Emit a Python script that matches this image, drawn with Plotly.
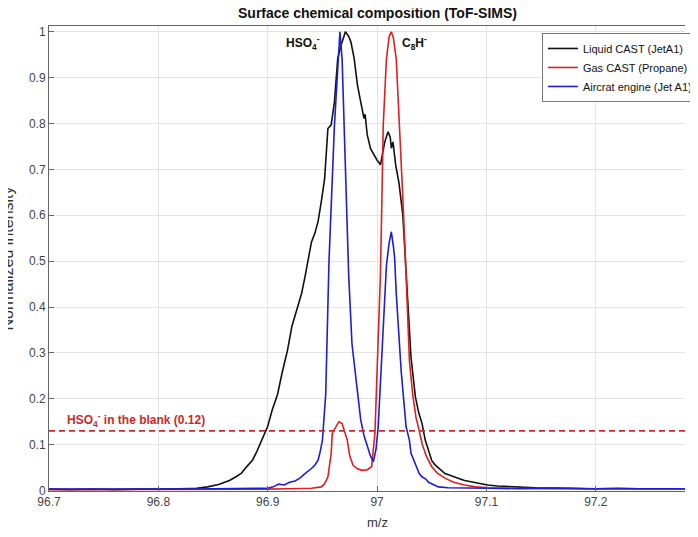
import plotly.graph_objects as go

# ---------------- data ----------------
liquid_x = [96.70, 96.72, 96.74, 96.76, 96.78, 96.80, 96.82, 96.835, 96.845, 96.855,
            96.865, 96.871, 96.876, 96.880, 96.886, 96.890, 96.895, 96.900, 96.904, 96.909,
            96.913, 96.918, 96.922, 96.926, 96.931, 96.934, 96.937, 96.940, 96.943, 96.946,
            96.949, 96.952, 96.955, 96.958, 96.961, 96.964, 96.967, 96.971, 96.974, 96.976,
            96.979, 96.982, 96.985, 96.988, 96.989, 96.991, 96.994, 96.997, 97.000, 97.001,
            97.003, 97.005, 97.007, 97.010, 97.012, 97.013, 97.0145, 97.017, 97.020, 97.0235,
            97.0265, 97.029, 97.031, 97.035, 97.038, 97.041, 97.044, 97.047, 97.050, 97.053,
            97.058, 97.062, 97.066, 97.070, 97.074, 97.080, 97.086, 97.093, 97.101, 97.110,
            97.122, 97.135, 97.145, 97.160, 97.180, 97.200, 97.220, 97.240, 97.260, 97.280, 97.300]
liquid_y = [0.003, 0.002, 0.003, 0.002, 0.003, 0.003, 0.004, 0.005, 0.008, 0.013,
            0.022, 0.030, 0.038, 0.050, 0.066, 0.085, 0.112, 0.140, 0.175, 0.210,
            0.255, 0.305, 0.357, 0.390, 0.430, 0.465, 0.500, 0.542, 0.560, 0.586,
            0.630, 0.680, 0.789, 0.797, 0.847, 0.942, 0.970, 1.000, 0.990, 0.978,
            0.942, 0.884, 0.847, 0.811, 0.820, 0.775, 0.745, 0.731, 0.720, 0.717,
            0.710, 0.735, 0.760, 0.782, 0.770, 0.746, 0.760, 0.709, 0.670, 0.600,
            0.470, 0.370, 0.290, 0.204, 0.170, 0.147, 0.110, 0.088, 0.065, 0.056,
            0.045, 0.037, 0.034, 0.030, 0.027, 0.022, 0.019, 0.015, 0.012, 0.010,
            0.008, 0.007, 0.006, 0.005, 0.005, 0.004, 0.005, 0.004, 0.004, 0.004, 0.004]

gas_x = [96.70, 96.75, 96.80, 96.85, 96.90, 96.92, 96.94, 96.949, 96.952, 96.955,
         96.958, 96.959, 96.9623, 96.965, 96.968, 96.970, 96.9727, 96.975, 96.978, 96.9816,
         96.986, 96.9906, 96.993, 96.995, 96.998, 97.001, 97.003, 97.0045, 97.0056, 97.0085,
         97.011, 97.013, 97.015, 97.0175, 97.0205, 97.0235, 97.0265, 97.0295, 97.0325, 97.0355,
         97.0385, 97.0414, 97.045, 97.050, 97.055, 97.062, 97.070, 97.080, 97.090, 97.101,
         97.120, 97.150, 97.180, 97.210, 97.240, 97.270, 97.300]
gas_y = [0.002, 0.002, 0.002, 0.002, 0.003, 0.004, 0.005, 0.008, 0.015, 0.030,
         0.081, 0.125, 0.140, 0.150, 0.146, 0.130, 0.110, 0.075, 0.055, 0.048,
         0.044, 0.045, 0.048, 0.052, 0.125, 0.357, 0.470, 0.650, 0.797, 0.940,
         0.990, 1.000, 0.985, 0.940, 0.797, 0.638, 0.470, 0.284, 0.210, 0.160,
         0.130, 0.100, 0.075, 0.052, 0.038, 0.027, 0.018, 0.012, 0.008, 0.006,
         0.005, 0.004, 0.004, 0.004, 0.004, 0.004, 0.004]

engine_x = [96.70, 96.73, 96.76, 96.79, 96.82, 96.85, 96.88, 96.90, 96.905, 96.910,
            96.915, 96.920, 96.925, 96.930, 96.934, 96.937, 96.940, 96.943, 96.946, 96.948,
            96.950, 96.953, 96.956, 96.961, 96.966, 96.968, 96.971, 96.974, 96.977, 96.982,
            96.985, 96.988, 96.991, 96.994, 96.9966, 96.999, 97.001, 97.004, 97.007, 97.0085,
            97.011, 97.013, 97.015, 97.016, 97.0175, 97.022, 97.0265, 97.0295, 97.031, 97.035,
            97.0385, 97.041, 97.0445, 97.047, 97.052, 97.056, 97.065, 97.080, 97.100, 97.130,
            97.160, 97.190, 97.220, 97.250, 97.280, 97.300]
engine_y = [0.003, 0.003, 0.002, 0.003, 0.003, 0.004, 0.004, 0.005, 0.008, 0.014,
            0.012, 0.018, 0.021, 0.028, 0.037, 0.042, 0.048, 0.055, 0.066, 0.085,
            0.110, 0.210, 0.500, 0.797, 1.000, 0.940, 0.725, 0.470, 0.320, 0.210,
            0.154, 0.120, 0.095, 0.075, 0.063, 0.090, 0.139, 0.284, 0.430, 0.490,
            0.540, 0.564, 0.530, 0.507, 0.430, 0.260, 0.139, 0.110, 0.081, 0.055,
            0.037, 0.030, 0.025, 0.018, 0.012, 0.008, 0.006, 0.005, 0.005, 0.004,
            0.005, 0.004, 0.004, 0.005, 0.004, 0.004]

blank_level = 0.13
series_names = ["Liquid CAST (JetA1)", "Gas CAST (Propane)", "Aircrat engine (Jet A1)"]
x_ticks = [96.7, 96.8, 96.9, 97.0, 97.1, 97.2, 97.3]
x_tick_labels = ["96.7", "96.8", "96.9", "97", "97.1", "97.2", "97.3"]
y_ticks = [0, 0.1, 0.2, 0.3, 0.4, 0.5, 0.6, 0.7, 0.8, 0.9, 1.0]
y_tick_labels = ["0", "0.1", "0.2", "0.3", "0.4", "0.5", "0.6", "0.7", "0.8", "0.9", "1"]

# ---------------- figure ----------------
FONT = "Liberation Sans, Arial, Helvetica, sans-serif"
BLACK = "#111111"
RED = "rgb(228,30,30)"
BLUE = "rgb(30,30,215)"
DRED = "rgb(205,40,40)"

fig = go.Figure()
fig.add_trace(go.Scatter(x=liquid_x, y=liquid_y, mode="lines", name=series_names[0],
                         line=dict(color=BLACK, width=1.6)))
fig.add_trace(go.Scatter(x=gas_x, y=gas_y, mode="lines", name=series_names[1],
                         line=dict(color=RED, width=1.6)))
fig.add_trace(go.Scatter(x=engine_x, y=engine_y, mode="lines", name=series_names[2],
                         line=dict(color=BLUE, width=1.6)))

fig.add_shape(type="line", xref="paper", x0=0, x1=1, yref="y", y0=blank_level, y1=blank_level,
              line=dict(color=DRED, width=1.6, dash="6px,4px"), layer="above")

# page body has an 8px default margin, so the figure is sized 690x529
fig.update_layout(
    width=690, height=529,
    margin=dict(l=41, r=0, t=18, b=46),
    paper_bgcolor="white", plot_bgcolor="white",
    font=dict(family=FONT, size=12, color="#333"),
    showlegend=True,
    legend=dict(x=0.775, y=0.985, xanchor="left", yanchor="top",
                bgcolor="white", bordercolor="#777", borderwidth=1,
                font=dict(family=FONT, size=11, color="#111"),
                tracegroupgap=0, itemwidth=30),
    xaxis=dict(range=[96.7, 97.2815], tickvals=x_ticks, ticktext=x_tick_labels,
               showgrid=True, gridcolor="#e3e3e3", gridwidth=1, zeroline=False,
               showline=True, linecolor="#666", linewidth=1, mirror=True,
               ticks="inside", ticklen=5, tickcolor="#666",
               tickfont=dict(family=FONT, size=12, color="#444")),
    yaxis=dict(range=[-0.001, 1.0125], tickvals=y_ticks, ticktext=y_tick_labels,
               showgrid=True, gridcolor="#e3e3e3", gridwidth=1, zeroline=False,
               showline=True, linecolor="#666", linewidth=1, mirror=False,
               ticks="inside", ticklen=5, tickcolor="#666",
               tickfont=dict(family=FONT, size=12, color="#444")),
)

ann = []
ann.append(dict(text="<b>Surface chemical composition (ToF-SIMS)</b>", xref="paper", yref="paper",
                x=0.516, y=1.028, xanchor="center", yanchor="middle", showarrow=False,
                font=dict(family=FONT, size=14, color="#111")))
ann.append(dict(text="m/z", xref="paper", yref="paper", x=0.516, y=-0.068,
                xanchor="center", yanchor="middle", showarrow=False,
                font=dict(family=FONT, size=13, color="#333")))
ann.append(dict(text="Normalized intensity", xref="paper", yref="paper", x=-0.066, y=0.5,
                xanchor="center", yanchor="middle", textangle=-90, showarrow=False,
                font=dict(family=FONT, size=16, color="#333")))
ann.append(dict(text="<b>HSO<sub>4</sub><sup>-</sup></b>", x=96.932, y=0.975,
                xanchor="center", yanchor="middle", showarrow=False,
                font=dict(family=FONT, size=12, color="#111")))
ann.append(dict(text="<b>C<sub>8</sub>H<sup>-</sup></b>", x=97.034, y=0.975,
                xanchor="center", yanchor="middle", showarrow=False,
                font=dict(family=FONT, size=12, color="#111")))
ann.append(dict(text="<b>HSO<sub>4</sub><sup>-</sup> in the blank (0.12)</b>", x=96.7143, y=0.153,
                xanchor="left", yanchor="middle", showarrow=False,
                font=dict(family=FONT, size=12, color=DRED)))
fig.update_layout(annotations=ann)

fig.write_html("out.html")
